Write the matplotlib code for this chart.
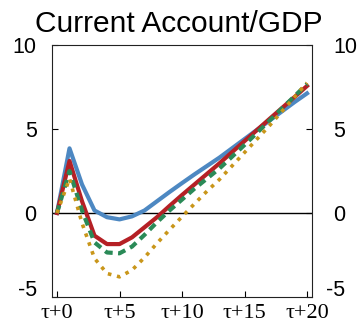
import matplotlib
matplotlib.use("Agg")
import matplotlib.pyplot as plt
import matplotlib.transforms as mtransforms

# horizon tau+0 .. tau+20
horizon = list(range(21))

ca_blue = [0, 3.85, 1.7, 0.15, -0.25, -0.38, -0.2, 0.15, 0.7, 1.25, 1.78,
           2.3, 2.8, 3.3, 3.85, 4.4, 4.95, 5.5, 6.05, 6.6, 7.12]
ca_red = [0, 3.1, 0.7, -1.35, -1.85, -1.85, -1.45, -0.85, -0.25, 0.42, 1.07,
          1.7, 2.33, 2.96, 3.62, 4.28, 4.94, 5.6, 6.25, 6.9, 7.56]
ca_green = [0, 2.5, 0.15, -1.75, -2.35, -2.4, -2.0, -1.3, -0.55, 0.15, 0.8,
            1.45, 2.05, 2.65, 3.35, 4.05, 4.77, 5.5, 6.23, 6.95, 7.68]
ca_gold = [0, 2.05, -0.6, -2.7, -3.6, -3.8, -3.4, -2.65, -1.8, -1.0, -0.22,
           0.55, 1.3, 2.0, 2.8, 3.6, 4.4, 5.2, 6.05, 6.9, 7.75]

xticks = [0, 5, 10, 15, 20]
xlabels = ["τ+0", "τ+5", "τ+10", "τ+15", "τ+20"]
yticks = [-5, 0, 5, 10]

fig = plt.figure(figsize=(3.58, 3.28), dpi=100)
ax = fig.add_axes([52 / 358, 31 / 328, 260 / 358, 252 / 328])

ax.axhline(0, color="black", lw=1.0, zorder=1)
ax.plot(horizon, ca_blue, color="#4d88c2", lw=3.0, zorder=2)
ax.plot(horizon, ca_red, color="#b52025", lw=3.0, zorder=3)
ax.plot(horizon, ca_green, color="#2a8a57", lw=3.0, dashes=(1.9, 1.3),
        dash_capstyle="butt", zorder=4)
ax.plot(horizon, ca_gold, color="#c9961a", lw=2.6, dashes=(1.0, 1.6),
        dash_capstyle="butt", zorder=5)

ax.set_xlim(-0.4, 20.4)
ax.set_ylim(-5, 10)
ax.set_xticks(xticks)
ax.set_xticklabels(xlabels, family=["Liberation Serif", "DejaVu Serif"], fontsize=16)
ax.set_yticks(yticks)
ax.set_yticklabels([str(v) for v in yticks], family="Liberation Sans", fontsize=15.5)

ax.tick_params(axis="x", direction="in", length=4, width=0.8, pad=5, top=False)
ax.tick_params(axis="y", direction="in", length=4, width=0.8, pad=11,
               left=True, right=True, labelleft=True, labelright=True)
for sp in ax.spines.values():
    sp.set_linewidth(0.8)
    sp.set_color("#222222")

# label placement quirks of the original: -5 sits above the bottom edge,
# right-hand labels are right-aligned except 10
for tick, val in zip(ax.yaxis.get_major_ticks(), yticks):
    dy = 9 if val == -5 else 0
    dx = 6 if val == 10 else 18
    up = mtransforms.ScaledTranslation(0, dy / 100, fig.dpi_scale_trans)
    tick.label1.set_transform(tick.label1.get_transform() + up)
    right = mtransforms.ScaledTranslation(dx / 100, dy / 100, fig.dpi_scale_trans)
    tick.label2.set_transform(tick.label2.get_transform() + right)
    tick.label2.set_horizontalalignment("left" if val == 10 else "right")

fig.text(0.5, 1 - 32 / 328, "Current Account/GDP", ha="center", va="baseline",
         family="Liberation Sans", fontsize=21.5)

fig.savefig("out.png", dpi=100)
